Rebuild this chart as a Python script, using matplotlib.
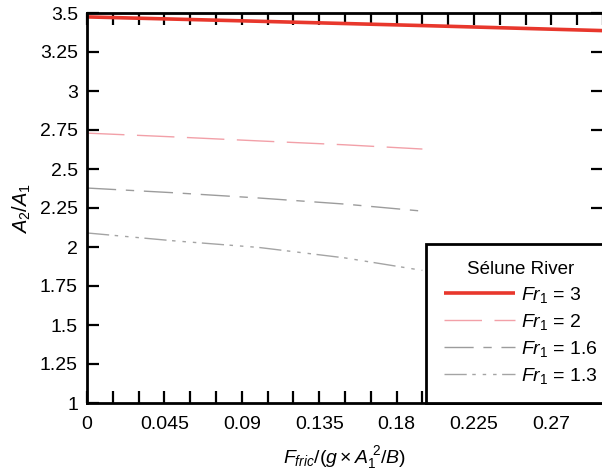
import matplotlib
matplotlib.use('Agg')
import matplotlib.pyplot as plt

plt.rcParams['font.family'] = ['Liberation Sans', 'DejaVu Sans']
plt.rcParams['mathtext.fontset'] = 'custom'
plt.rcParams['mathtext.rm'] = 'Liberation Sans'
plt.rcParams['mathtext.it'] = 'Liberation Sans:italic'
plt.rcParams['mathtext.bf'] = 'Liberation Sans:bold'

# data
x_fr3 = [0, 0.1, 0.2, 0.3]
y_fr3 = [3.475, 3.447, 3.418, 3.387]
x_low = [0, 0.05, 0.1, 0.15, 0.195]
y_fr2 = [2.73, 2.706, 2.68, 2.655, 2.628]
y_fr16 = [2.378, 2.348, 2.314, 2.275, 2.23]
y_fr13 = [2.09, 2.04, 1.997, 1.93, 1.85]

xticks = [0, 0.045, 0.09, 0.135, 0.18, 0.225, 0.27]
xtick_labels = ['0', '0.045', '0.09', '0.135', '0.18', '0.225', '0.27']
xminor = [0.015 * i for i in range(21)]
yticks = [1, 1.25, 1.5, 1.75, 2, 2.25, 2.5, 2.75, 3, 3.25, 3.5]
ytick_labels = ['1', '1.25', '1.5', '1.75', '2', '2.25', '2.5', '2.75', '3', '3.25', '3.5']

fig = plt.figure(figsize=(6.02, 4.70), dpi=100)
ax = fig.add_axes([87 / 602, 67 / 470, 516 / 602, 390 / 470])

ax.plot(x_fr3, y_fr3, color='#e8372c', lw=2.6, label=r'$\mathit{Fr}_1$ = 3', solid_capstyle='butt')
ax.plot(x_low, y_fr2, color='#f2a0a8', lw=1.0, dashes=(27, 9), label=r'$\mathit{Fr}_1$ = 2')
ax.plot(x_low, y_fr16, color='#9c9c9c', lw=1.0, dashes=(21, 7, 6, 7), label=r'$\mathit{Fr}_1$ = 1.6')
ax.plot(x_low, y_fr13, color='#a4a4a4', lw=1.0, dashes=(16, 4, 2.5, 5, 2.5, 5, 2.5, 4), label=r'$\mathit{Fr}_1$ = 1.3')

ax.set_xlim(0, 0.3)
ax.set_ylim(1, 3.5)
ax.set_xticks(xticks)
ax.set_xticklabels(xtick_labels)
ax.set_xticks(xminor, minor=True)
ax.set_yticks(yticks)
ax.set_yticklabels(ytick_labels)
ax.tick_params(which='both', direction='in', top=True, right=True, length=8.5, width=1.6,
               labelsize=14)
ax.tick_params(axis='x', pad=9.5)
ax.tick_params(axis='y', pad=6.5)
for s in ax.spines.values():
    s.set_linewidth(2.0)

ax.set_xlabel(r'$F_{fric}/(g\times A_1^{\ 2}/B)$', fontsize=14, labelpad=8)
ax.set_ylabel(r'$A_2/A_1$', fontsize=14.5, labelpad=5)

leg = ax.legend(loc='lower left', bbox_to_anchor=(0.657, 0.0), borderaxespad=0,
                title='Sélune River', fontsize=14, title_fontsize=13.5,
                handlelength=3.7, handletextpad=0.3, labelspacing=0.35,
                borderpad=0.9, fancybox=False, framealpha=1, edgecolor='black')
leg.get_frame().set_linewidth(2.0)

fig.savefig('out.png', dpi=100)
